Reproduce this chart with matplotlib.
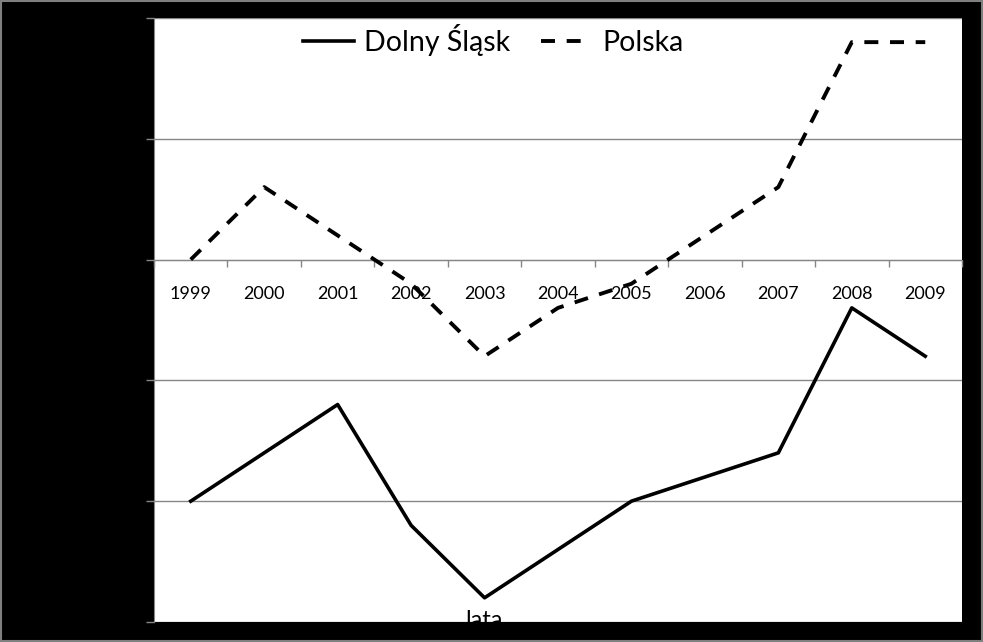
import numpy as np
import matplotlib.pyplot as plt
from matplotlib.patches import Rectangle

# Data (units = one gridline step, 0 = category axis)
years = ['1999', '2000', '2001', '2002', '2003', '2004', '2005', '2006', '2007', '2008', '2009']
dolny_slask = [-2.0, -1.6, -1.2, -2.2, -2.8, -2.4, -2.0, -1.8, -1.6, -0.4, -0.8]
polska = [0.0, 0.6, 0.2, -0.2, -0.8, -0.4, -0.2, 0.2, 0.6, 1.8, 1.8]
y_grid = [-3, -2, -1, 0, 1, 2]

plt.rcParams['font.family'] = ['Lato', 'DejaVu Sans']

fig = plt.figure(figsize=(9.83, 6.42), dpi=100, facecolor='black')
fig.patches.append(Rectangle((0.001, 0.002), 0.998, 0.996, transform=fig.transFigure,
                             fill=False, edgecolor='#7f7f7f', lw=1.5))
ax = fig.add_axes([0.1567, 0.0312, 0.8219, 0.9408])
ax.set_facecolor('white')

x = np.arange(len(years))
ax.plot(x, dolny_slask, color='black', lw=2.6, label='Dolny Śląsk', zorder=3)
ax.plot(x, polska, color='black', lw=2.8, dashes=(3.6, 3.0), label='Polska', zorder=3)

ax.set_xlim(-0.5, len(years) - 0.5)
ax.set_ylim(y_grid[0], y_grid[-1])

# y axis: gridlines, labels hidden (black on black)
ax.set_yticks(y_grid)
ax.set_yticklabels([])
ax.yaxis.grid(True, color='#868686', lw=1)
ax.tick_params(axis='y', length=6, width=1, color='#868686', direction='out')

# category axis crosses at zero
for s in ['top', 'right']:
    ax.spines[s].set_visible(False)
ax.spines['left'].set_color('#868686')
ax.spines['bottom'].set_color('#868686')
ax.spines['bottom'].set_position(('data', 0))
ax.set_xticks(np.arange(len(years) + 1) - 0.5)
ax.set_xticklabels([])
ax.set_xticks(x, minor=True)
ax.set_xticklabels(years, minor=True, fontsize=13)
ax.tick_params(axis='x', which='major', length=5, width=1, color='#868686', direction='out')
ax.tick_params(axis='x', which='minor', length=0, pad=19)

ax.text(0.408, 0.019, 'lata', transform=ax.transAxes, ha='center', va='top',
        fontsize=17, clip_on=True)

ax.legend(loc='center', bbox_to_anchor=(0.42, 0.964), frameon=False, ncol=2,
          fontsize=20.5, handlelength=1.79, handletextpad=0.35, columnspacing=1.1)

fig.savefig('out.png', dpi=100, facecolor='black')
